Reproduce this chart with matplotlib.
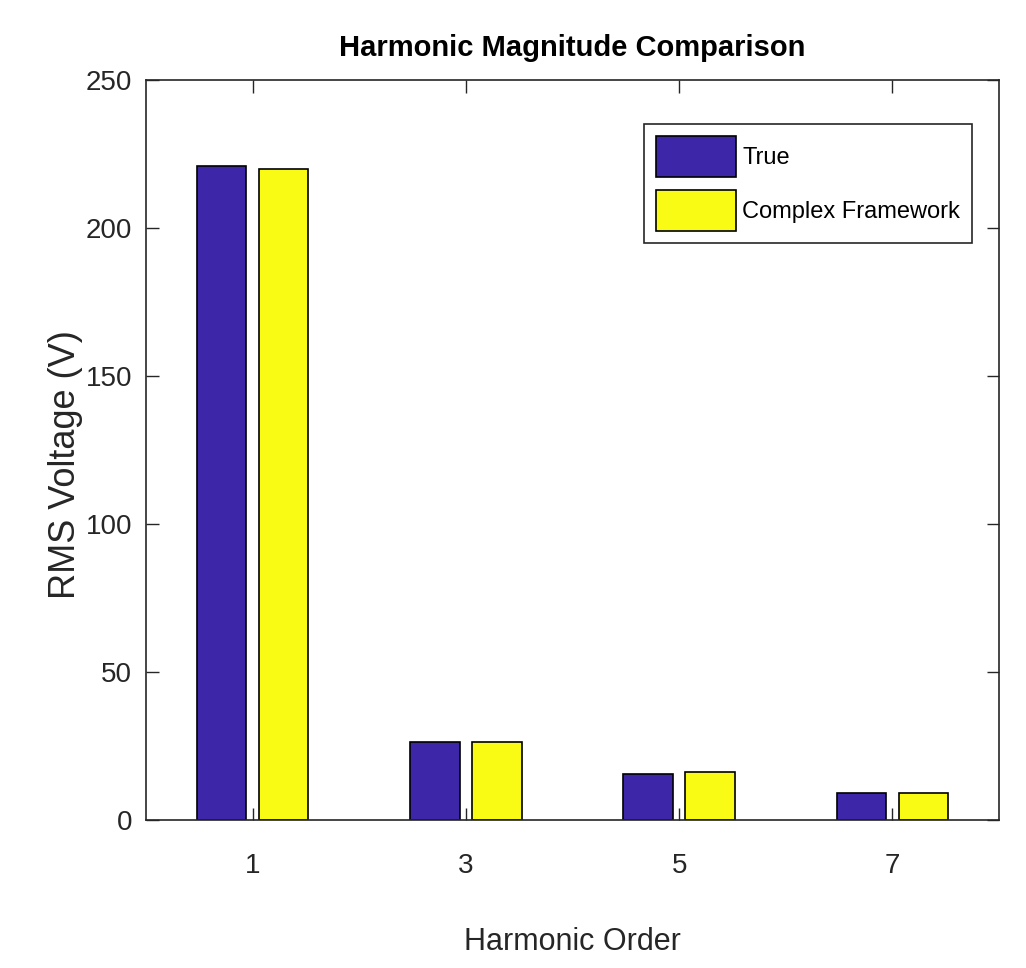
import numpy as np
import matplotlib
matplotlib.use('Agg')
import matplotlib.pyplot as plt

# harmonic orders and rms magnitudes (V)
orders = [1, 3, 5, 7]
true_vals = [221.0, 26.4, 15.5, 9.1]
framework_vals = [220.0, 26.3, 16.2, 9.0]

labels = ['True', 'Complex Framework']
colors = ['#3e26a8', '#f9fb15']
yticks = [0, 50, 100, 150, 200, 250]

plt.rcParams['font.family'] = ['Liberation Sans', 'DejaVu Sans']
ink = '#262626'

fig = plt.figure(figsize=(10.26, 9.68), dpi=100)
ax = fig.add_axes([0.1423, 0.1529, 0.8314, 0.7645])

x = np.array(orders, dtype=float)
w = 0.465
off = 0.29
ax.bar(x - off, true_vals, width=w, color=colors[0], edgecolor='black', linewidth=1.2, label=labels[0])
ax.bar(x + off, framework_vals, width=w, color=colors[1], edgecolor='black', linewidth=1.2, label=labels[1])

ax.set_xlim(0, 8)
ax.set_ylim(0, 250)
ax.set_xticks(orders)
ax.set_yticks(yticks)
ax.tick_params(direction='in', length=9, width=1, colors=ink, labelsize=20,
               top=True, right=True, pad=10)
ax.tick_params(axis='x', pad=24)
for s in ax.spines.values():
    s.set_color(ink)
    s.set_linewidth(1.2)

ax.set_title('Harmonic Magnitude Comparison', fontsize=21, fontweight='bold', pad=17)
ax.set_xlabel('Harmonic Order', fontsize=22, color=ink, labelpad=34)
ax.set_ylabel('RMS Voltage (V)', fontsize=26, color=ink)
ax.yaxis.set_label_coords(-0.074, 0.48)

leg = ax.legend(loc='upper right', bbox_to_anchor=(0.968, 0.94), fontsize=17,
                frameon=True, fancybox=False, edgecolor=ink, framealpha=1,
                handlelength=3.4, handleheight=2.3, handletextpad=0.25,
                labelspacing=0.55, borderpad=0.5, borderaxespad=0)
leg.get_frame().set_linewidth(1.2)

fig.savefig('out.png', dpi=100)
